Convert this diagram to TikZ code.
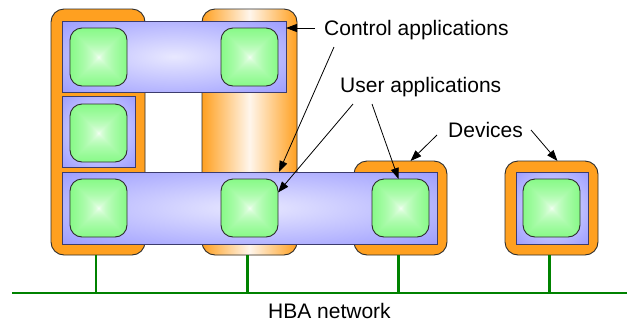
\documentclass[tikz,border=0pt]{standalone}
\usepackage{fontspec}
\setmainfont{Liberation Sans}
\usetikzlibrary{arrows.meta,calc}

\definecolor{devorange}{RGB}{255,160,32}
\definecolor{devlight}{RGB}{255,246,236}
\definecolor{barout}{RGB}{152,152,255}
\definecolor{barin}{RGB}{232,232,255}
\definecolor{barline}{RGB}{60,60,110}
\definecolor{netgreen}{RGB}{0,130,0}
\definecolor{edgegray}{RGB}{45,45,45}

% soft glow for the application bars
\pgfdeclareradialshading{barglow}{\pgfpoint{0bp}{0bp}}%
  {color(0bp)=(barin); color(38bp)=(barout); color(80bp)=(barout)}

% pyramid shading for the application squares: white centre, green edges
\pgfdeclarefunctionalshading{apppyramid}{\pgfpoint{-50bp}{-50bp}}{\pgfpoint{50bp}{50bp}}{}{%
  abs exch abs 2 copy lt {exch} if pop
  50 div sqrt dup 0.66 mul 1 exch sub exch 0.03 mul 1 exch sub 1 index
}

\begin{document}
\begin{tikzpicture}[x=1pt,y=-1pt,
  device/.style={draw=edgegray, line width=0.9pt, rounded corners=13pt,
    fill=devorange, inner sep=0pt, outer sep=0pt, anchor=north west},
  devshade/.style={device, left color=devorange, right color=devorange,
    middle color=devlight},
  bar/.style={draw=barline, line width=0.9pt, shading=barglow,
    inner sep=0pt, outer sep=0pt, anchor=north west},
  app/.style={draw=edgegray, line width=0.9pt, rounded corners=12pt,
    shading=apppyramid, minimum width=57pt, minimum height=58pt,
    inner sep=0pt, outer sep=0pt, anchor=north west},
  label/.style={font=\fontsize{21}{25}\selectfont, inner sep=0pt,
    anchor=base west},
  arr/.style={line width=0.8pt, -{Triangle[length=11pt,width=8pt]}},
  net/.style={netgreen, line width=2.8pt}]

\useasboundingbox (0,0) rectangle (627,322);

% network backbone
\coordinate (netL) at (12,293);
\coordinate (netR) at (627,293);
\draw[net] (netL) -- (netR);
\node[label] (hba) at (268,318) {HBA network};

% devices
\node[device, minimum width=94pt, minimum height=246pt] (dev1) at (51,9) {};
\node[devshade, minimum width=95pt, minimum height=246pt] (dev2) at (202,9) {};
\node[device, minimum width=93pt, minimum height=94pt] (dev3) at (354,161) {};
\node[device, minimum width=93pt, minimum height=94pt] (dev4) at (505,161) {};

% device taps onto the network
\foreach \d in {dev1,dev2,dev3,dev4}
  \draw[net] ([xshift=-2pt]\d.south) -- ([xshift=-2pt]\d.south |- netL);

% applications
\node[bar, minimum width=224pt, minimum height=71pt] (topbar) at (62,21) {};
\node[bar, minimum width=73pt, minimum height=71pt] (midbox) at (62,96) {};
\node[bar, minimum width=375pt, minimum height=72pt] (botbar) at (62,172) {};
\node[bar, minimum width=72pt, minimum height=72pt] (dev4bar) at (516,172) {};

\node[app] (a1) at (70,28) {};
\node[app] (a2) at (221,28) {};
\node[app] (a3) at (70,104) {};
\node[app] (a4) at (70,179) {};
\node[app] (a5) at (221,179) {};
\node[app] (a6) at (372,179) {};
\node[app] (a7) at (523,179) {};

% labels
\node[label] (ctrl) at (324,35.3) {Control applications};
\node[label] (user) at (340,92) {User applications};
\node[label] (devs) at (448,137) {Devices};

% label pointers
\coordinate (c1) at (315,28);
\coordinate (c2) at (334,47);
\coordinate (c3) at (353,104);
\coordinate (c4) at (372,104);
\coordinate (c5) at (437,135);
\coordinate (c6) at (531,130);

\draw[arr] (c1) -- (topbar.east |- c1);
\draw[arr] (c2) -- ([xshift=217pt]botbar.north west);
\draw[arr] (c3) -- ([yshift=15.5pt]a5.east);
\draw[arr] (c4) -- ([xshift=-2pt]a6.north);
\draw[arr] (c5) -- ([xshift=10pt]dev3.north);
\draw[arr] (c6) -- ([xshift=6pt]dev4.north);
\end{tikzpicture}
\end{document}
